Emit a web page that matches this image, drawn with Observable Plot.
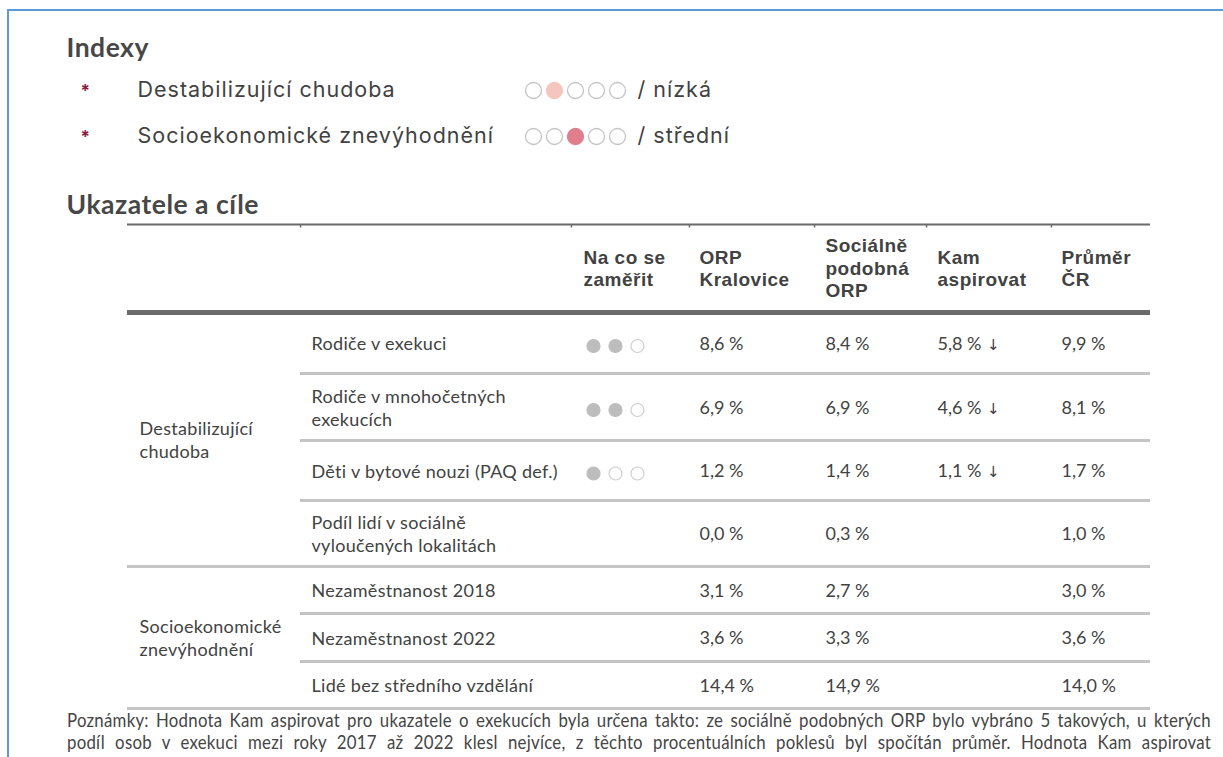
<!DOCTYPE html>
<html>
<head>
<meta charset="utf-8">
<script src="https://cdn.jsdelivr.net/npm/d3@7"></script>
<script src="https://cdn.jsdelivr.net/npm/@observablehq/plot@0.6"></script>
<style>
  html, body { margin: 0; padding: 0; background: #fff; }
  #page { position: relative; width: 1223px; height: 757px; overflow: hidden; background: #fff; }
  #frame { position: absolute; left: 7px; top: 9px; right: -10px; bottom: -10px;
           border-left: 2.5px solid #5b9bd5; border-top: 2px solid #5b9bd5; }
  #chart { position: absolute; left: 0; top: 0; }
  .note { position: absolute; left: 67px; white-space: nowrap; overflow: visible;
          font-family: Lato, "Noto Sans", sans-serif; font-size: 20px; letter-spacing: 0.3px; color: #454545;
          transform-origin: 0 50%; line-height: 22px; }
  .note div { text-align: justify; text-align-last: justify; white-space: normal; }
</style>
</head>
<body>
<div id="page">
  <div id="frame"></div>
  <div id="chart"></div>
  <div class="note" id="note1"></div>
  <div class="note" id="note2"></div>
</div>
<script>
// ---------------- DATA ----------------
const sectionTitles = ["Indexy", "Ukazatele a cíle"];
const indexNames = ["Destabilizující chudoba", "Socioekonomické znevýhodnění"];
const indexLevel = [2, 3];                       // filled circle out of 5
const indexLevelLabel = ["nízká", "střední"];
const indexLevelCount = 5;

const groupNames = ["Destabilizující\nchudoba", "Socioekonomické\nznevýhodnění"];
const indicators = [
  "Rodiče v exekuci",
  "Rodiče v mnohočetných\nexekucích",
  "Děti v bytové nouzi (PAQ def.)",
  "Podíl lidí v sociálně\nvyloučených lokalitách",
  "Nezaměstnanost 2018",
  "Nezaměstnanost 2022",
  "Lidé bez středního vzdělání"
];
const indicatorGroup = [0, 0, 0, 0, 1, 1, 1];
const focusLevel = [2, 2, 1, null, null, null, null];   // filled dots out of 3
const focusLevelCount = 3;
const columnHeaders = ["Na co se\nzaměřit", "ORP\nKralovice", "Sociálně\npodobná\nORP", "Kam\naspirovat", "Průměr\nČR"];
const orpKralovice = [8.6, 6.9, 1.2, 0.0, 3.1, 3.6, 14.4];
const similarOrp   = [8.4, 6.9, 1.4, 0.3, 2.7, 3.3, 14.9];
const aspireTarget = [5.8, 4.6, 1.1, null, null, null, null];
const averageCR    = [9.9, 8.1, 1.7, 1.0, 3.0, 3.6, 14.0];
const notes = [
  "Poznámky: Hodnota Kam aspirovat pro ukazatele o exekucích byla určena takto: ze sociálně podobných ORP bylo vybráno 5 takových, u kterých",
  "podíl osob v exekuci mezi roky 2017 až 2022 klesl nejvíce, z těchto procentuálních poklesů byl spočítán průměr. Hodnota Kam aspirovat"
];

// ---------------- LAYOUT & STYLE ----------------
const L = {
  W: 1223, H: 757,
  titleX: 66, titleY: [48, 205],
  idxY: [90, 136], idxStarX: 80, idxNameX: 137, idxDotX: 533, idxDotStep: 21, idxDotR: 8, idxLabelX: 637,
  tableX1: 127, tableX2: 1150, innerX1: 300,
  headTop: 224, headBottom: 312,
  rowH: [61, 67, 60, 66, 47, 48, 47],
  colEdges: [300, 571, 689, 814, 926, 1051],
  groupX: 139, labelX: 311, dotX: 593, dotStep: 22, dotR: 6.5, dotDy: 3,
  headerX: [583, 699, 825, 937, 1061],
  valueX: [699, 825, 937, 1061],
  noteY: [708, 730], noteW: 1144, noteScale: 0.84
};
const S = {
  text: "#424242",
  title: "#474747",
  star: "#8b1c3c",
  ruleDark: "#6b6b6b",
  ruleLight: "#c4c4c4",
  dotFill: "#bdbdbd",
  dotEmpty: "#cfcfcf",
  idxEmpty: "#c4c4c4",
  levelFill: {1: "#fbe2dc", 2: "#f5c6bd", 3: "#e07e8e", 4: "#c94f66", 5: "#9b2242"},
  bodyFont: "Lato, 'Noto Sans', sans-serif",
  idxFont: "Inter, Roboto, sans-serif",
  headFont: "'Liberation Sans', Arial, sans-serif"
};

// ---------------- DERIVED TABLES ----------------
const fmt = v => v.toFixed(1).replace(".", ",") + " %";
let acc = L.headBottom;
const rows = indicators.map((name, i) => {
  const top = acc; acc += L.rowH[i];
  const lastInGroup = i === indicators.length - 1 || indicatorGroup[i + 1] !== indicatorGroup[i];
  return {name, i, group: indicatorGroup[i], top, bottom: acc, mid: (top + acc) / 2, lastInGroup};
});
const groups = groupNames.map((g, gi) => {
  const rs = rows.filter(r => r.group === gi);
  return {name: g, mid: (rs[0].top + rs[rs.length - 1].bottom) / 2};
});
const series = [orpKralovice, similarOrp, aspireTarget, averageCR];
const cells = [];
rows.forEach(r => series.forEach((s, si) => {
  const v = s[r.i];
  if (v != null) cells.push({x: L.valueX[si], y: r.mid + 1, text: fmt(v) + (si === 2 ? " ↓" : "")});
}));
const focusDots = [];
rows.forEach(r => {
  if (focusLevel[r.i] == null) return;
  for (let k = 0; k < focusLevelCount; k++)
    focusDots.push({x: L.dotX + k * L.dotStep, y: r.mid + L.dotDy, filled: k < focusLevel[r.i]});
});
const idxDots = [];
indexNames.forEach((n, i) => {
  for (let k = 1; k <= indexLevelCount; k++)
    idxDots.push({x: L.idxDotX + (k - 1) * L.idxDotStep, y: L.idxY[i], fill: k === indexLevel[i] ? S.levelFill[k] : "white", filled: k === indexLevel[i]});
});
const headers = columnHeaders.map((h, i) => ({x: L.headerX[i], y: (L.headTop + L.headBottom) / 2 - 1, text: h}));
const separators = rows.map(r => ({y: r.bottom, x1: r.lastInGroup ? L.tableX1 : L.innerX1, x2: L.tableX2}));

// ---------------- PLOT ----------------
const chart = Plot.plot({
  width: L.W, height: L.H, margin: 0,
  x: {type: "linear", domain: [0, L.W], range: [0, L.W], axis: null},
  y: {type: "linear", domain: [0, L.H], range: [0, L.H], axis: null},
  style: {background: "transparent", overflow: "visible"},
  marks: [
    // section titles
    Plot.text(sectionTitles, {x: L.titleX, y: (d, i) => L.titleY[i], text: d => d, textAnchor: "start",
      fontSize: 26.5, fontWeight: 700, fontFamily: S.bodyFont, fill: S.title, ariaDescription: "titles"}),
    // index list
    Plot.text(indexNames, {x: L.idxStarX, y: (d, i) => L.idxY[i] + 1, text: () => "*", textAnchor: "start",
      fontSize: 17, fontWeight: 700, fontFamily: S.idxFont, fill: S.star}),
    Plot.text(indexNames, {x: L.idxNameX, y: (d, i) => L.idxY[i], text: d => d, textAnchor: "start",
      fontSize: 21.5, fontFamily: S.idxFont, fill: S.text, ariaDescription: "idxtext"}),
    Plot.dot(idxDots, {x: "x", y: "y", r: L.idxDotR, fill: "fill", stroke: d => d.filled ? d.fill : S.idxEmpty, strokeWidth: 1.3}),
    Plot.text(indexLevelLabel, {x: L.idxLabelX, y: (d, i) => L.idxY[i], text: d => "/ " + d, textAnchor: "start",
      fontSize: 21.5, fontFamily: S.idxFont, fill: S.text, ariaDescription: "idxtext"}),
    // table rules
    Plot.ruleY([L.headTop], {x1: L.tableX1, x2: L.tableX2, stroke: S.ruleDark, strokeWidth: 2}),
    Plot.ruleX(L.colEdges, {x: d => d, y1: L.headTop, y2: L.headTop + 3.5, stroke: S.ruleDark, strokeWidth: 1.5}),
    Plot.ruleY(separators, {y: "y", x1: "x1", x2: "x2", stroke: S.ruleLight, strokeWidth: 3}),
    Plot.ruleY([L.headBottom], {x1: L.tableX1, x2: L.tableX2, stroke: S.ruleDark, strokeWidth: 5}),
    // headers
    Plot.text(headers, {x: "x", y: "y", text: "text", textAnchor: "start", lineHeight: 1.17,
      fontSize: 19, fontWeight: 700, fontFamily: S.headFont, fill: S.text, ariaDescription: "headers"}),
    // group and indicator labels
    Plot.text(groups, {x: L.groupX, y: "mid", text: "name", textAnchor: "start", lineHeight: 1.27,
      fontSize: 18, fontFamily: S.bodyFont, fill: S.text, ariaDescription: "labels"}),
    Plot.text(rows, {x: L.labelX, y: "mid", text: "name", textAnchor: "start", lineHeight: 1.27,
      fontSize: 18, fontFamily: S.bodyFont, fill: S.text, ariaDescription: "labels"}),
    // focus dots
    Plot.dot(focusDots, {x: "x", y: "y", r: L.dotR, fill: d => d.filled ? S.dotFill : "white",
      stroke: d => d.filled ? S.dotFill : S.dotEmpty, strokeWidth: 1.2}),
    // values
    Plot.text(cells, {x: "x", y: "y", text: "text", textAnchor: "start",
      fontSize: 18, fontFamily: S.bodyFont, fill: S.text, ariaDescription: "values"})
  ]
});
const sp = {headers: "0.5px", idxtext: "1px", titles: "0.5px", labels: "0.3px"};
Object.entries(sp).forEach(([k, v]) =>
  d3.select(chart).selectAll(`g[aria-description="${k}"]`).style("letter-spacing", v));
// smaller, lighter arrow glyph inside the "Kam aspirovat" values
d3.select(chart).selectAll('g[aria-description="values"] text').each(function () {
  const t = this.textContent;
  if (t.endsWith("↓")) {
    this.textContent = t.slice(0, -1);
    d3.select(this).append("tspan").attr("font-size", 15).attr("font-family", "'DejaVu Sans', sans-serif")
      .attr("dx", 1).text("↓");
  }
});
document.getElementById("chart").appendChild(chart);

// notes (justified caption)
notes.forEach((t, i) => {
  const el = document.getElementById("note" + (i + 1));
  el.style.top = L.noteY[i] + "px";
  el.style.transform = `scaleX(${L.noteScale})`;
  const inner = document.createElement("div");
  inner.style.width = (L.noteW / L.noteScale) + "px";
  inner.textContent = t;
  el.appendChild(inner);
});
</script>
</body>
</html>
